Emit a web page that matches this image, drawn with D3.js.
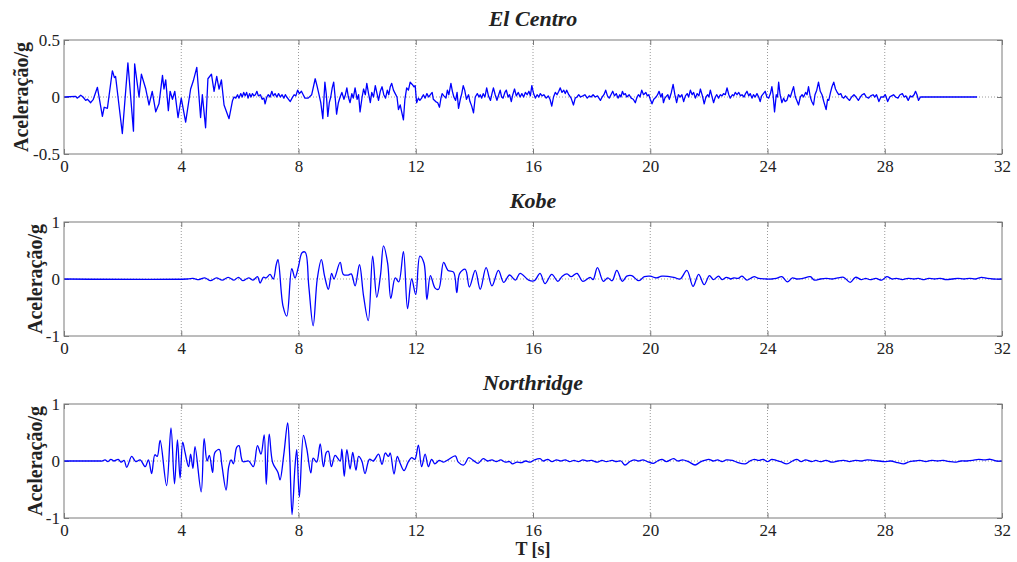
<!DOCTYPE html>
<html>
<head>
<meta charset="utf-8">
<script src="https://cdn.jsdelivr.net/npm/d3@7"></script>
<style>
  body { margin: 0; background: #fff; }
  svg { display: block; }
  text { font-family: "Liberation Serif", "Times New Roman", serif; fill: #222; }
</style>
</head>
<body>
<div class="svg-content"></div>
<script>
// time axis
const timeTicks = [0, 4, 8, 12, 16, 20, 24, 28, 32];

// record names
const titles = ["El Centro", "Kobe", "Northridge"];

// y ranges and tick labels per record
const yDomains = [[-0.5, 0.5], [-1, 1], [-1, 1]];
const elCentroTicks = [-0.5, 0, 0.5];
const kobeTicks = [-1, 0, 1];
const northridgeTicks = [-1, 0, 1];

// [t (s), acceleration (g)]
const elCentro = [
  [0,0],[0.4,0.005],[0.45,-0.01],[0.57,0.015],[0.65,0],[0.74,-0.03],[0.8,-0.02],[0.91,-0.05],[1.0,-0.02],
  [1.14,0.085],[1.31,-0.17],[1.37,-0.09],[1.48,-0.1],[1.65,0.23],[1.72,0.17],[1.76,0.18],[1.99,-0.32],
  [2.18,0.30],[2.37,-0.30],[2.41,0.29],[2.56,0],[2.64,0.2],[2.79,0.07],[2.9,-0.07],[3.01,0.05],[3.13,-0.13],
  [3.24,-0.06],[3.36,0.19],[3.41,0.07],[3.47,0.15],[3.56,-0.12],[3.62,0.05],[3.7,-0.02],[3.78,0.05],
  [3.89,-0.18],[4.0,-0.01],[4.15,-0.22],[4.32,0.07],[4.41,0.14],[4.53,0.26],[4.66,-0.18],[4.72,0.02],
  [4.83,-0.27],[4.91,0.16],[5.03,0.2],[5.12,0.05],[5.21,0.18],[5.29,0.07],[5.37,0.15],[5.46,-0.07],
  [5.63,-0.19],[5.75,-0.03],[5.8,0.0],[5.86,-0.01],[5.92,0.02],[5.97,-0.01],[6.03,0.03],[6.08,0.0],
  [6.13,0.04],[6.18,0.01],[6.23,0.04],[6.28,-0.01],[6.33,0.03],[6.38,0.0],[6.43,0.03],[6.48,0.01],
  [6.53,0.02],[6.58,0.05],[6.63,0.01],[6.7,0.02],[6.76,-0.02],[6.82,-0.01],[6.86,-0.06],[6.92,0.0],
  [6.97,0.02],[7.03,0.0],[7.09,0.05],[7.14,0.01],[7.2,0.03],[7.26,0.0],[7.32,0.03],[7.38,0.0],[7.44,0.02],
  [7.5,-0.01],[7.55,0.02],[7.6,0.0],[7.66,-0.02],[7.72,-0.04],[7.78,-0.01],[7.85,0.02],[7.91,0.01],
  [7.97,0.06],[8.03,0.03],[8.1,0.05],[8.16,0.02],[8.22,-0.01],[8.33,-0.01],[8.45,0.02],[8.57,0.16],
  [8.63,0.1],[8.7,0.02],[8.76,-0.05],[8.83,-0.19],[8.9,0.13],[8.95,0.02],[9.0,-0.17],[9.05,-0.05],
  [9.1,0.0],[9.15,0.08],[9.2,0.13],[9.25,0.0],[9.3,-0.15],[9.36,-0.05],[9.42,0],[9.48,0.04],[9.55,-0.02],
  [9.6,0.02],[9.65,0.08],[9.7,0.0],[9.76,-0.05],[9.82,0.03],[9.87,-0.01],[9.93,0.08],[10.0,-0.02],
  [10.05,0.02],[10.1,-0.13],[10.17,0.0],[10.22,0.07],[10.28,0.02],[10.33,0.12],[10.39,0.03],[10.45,-0.05],
  [10.5,0.04],[10.56,0.0],[10.62,0.1],[10.67,0.04],[10.73,-0.03],[10.79,0.05],[10.85,0.09],[10.91,0.02],
  [10.97,-0.01],[11.03,0.06],[11.08,0.02],[11.13,0.09],[11.18,0.12],[11.24,0.06],[11.3,0.03],[11.36,0.0],
  [11.41,-0.11],[11.47,-0.07],[11.52,-0.13],[11.58,-0.2],[11.63,-0.02],[11.69,0.08],[11.75,0.06],
  [11.81,0.13],[11.88,0.11],[11.94,0.09],[11.98,0.1],[12.03,-0.05],[12.09,-0.01],[12.14,-0.03],[12.2,-0.01],
  [12.26,0.02],[12.32,-0.01],[12.38,0.03],[12.44,0.0],[12.5,0.02],[12.56,0.04],[12.6,-0.02],[12.68,-0.04],
  [12.75,-0.05],[12.81,-0.09],[12.86,-0.01],[12.9,0.03],[12.96,0.01],[13.03,-0.01],[13.08,0.06],[13.13,0.02],
  [13.2,0.12],[13.25,0.05],[13.3,0],[13.36,-0.03],[13.41,0.04],[13.46,-0.1],[13.52,-0.02],[13.57,0.03],
  [13.62,0.1],[13.67,0.06],[13.73,-0.02],[13.8,0.02],[13.85,-0.04],[13.91,-0.08],[13.97,-0.14],[14.03,0.0],
  [14.1,0.03],[14.16,0.0],[14.2,0.02],[14.25,-0.01],[14.3,0.03],[14.36,0.0],[14.42,0.08],[14.48,0.01],
  [14.55,-0.03],[14.6,0.03],[14.65,0.08],[14.71,0.02],[14.77,-0.03],[14.83,0.02],[14.88,0.06],[14.93,0.0],
  [14.98,-0.01],[15.04,0.04],[15.09,0.06],[15.15,0.0],[15.2,0.02],[15.26,-0.04],[15.31,0.02],[15.37,0.07],
  [15.43,0.01],[15.5,0.04],[15.56,0.0],[15.62,0.03],[15.68,0.0],[15.74,0.04],[15.8,0.02],[15.86,0.05],
  [15.91,0.01],[15.96,0.1],[16.02,0.03],[16.08,-0.01],[16.14,0.02],[16.2,0.0],[16.25,0.03],[16.31,0.01],
  [16.37,0.02],[16.45,-0.01],[16.52,0.01],[16.58,-0.02],[16.64,-0.08],[16.7,0.0],[16.76,0.04],[16.82,0.02],
  [16.88,0.05],[16.93,0.08],[16.99,0.04],[17.05,0.06],[17.1,0.03],[17.15,0.06],[17.22,0.02],[17.3,-0.01],
  [17.38,-0.07],[17.44,-0.01],[17.5,0.0],[17.56,0.02],[17.62,0.0],[17.7,0.01],[17.77,0.02],[17.85,-0.01],
  [17.92,0.01],[17.98,0.0],[18.05,0.02],[18.12,0.0],[18.2,0.01],[18.25,-0.01],[18.3,-0.03],[18.36,0.0],
  [18.42,0.02],[18.48,0.06],[18.54,0.01],[18.6,-0.01],[18.66,0.02],[18.72,0.05],[18.78,0.01],[18.84,0.03],
  [18.9,-0.01],[18.96,0.02],[19.0,0.0],[19.05,0.05],[19.1,0.02],[19.15,0.03],[19.2,0.0],[19.28,0.02],
  [19.35,-0.01],[19.42,-0.02],[19.49,-0.05],[19.55,0.0],[19.6,0.02],[19.65,0.0],[19.71,0.06],[19.77,0.02],
  [19.85,0.04],[19.9,0.01],[19.95,0.02],[20.0,-0.02],[20.06,-0.06],[20.12,-0.02],[20.2,0.0],[20.25,0.02],
  [20.3,0.05],[20.36,0.0],[20.41,0.03],[20.45,-0.05],[20.5,-0.01],[20.56,0.01],[20.6,0.02],[20.65,-0.02],
  [20.72,0.04],[20.78,0.11],[20.84,0.02],[20.9,-0.05],[20.96,0.02],[21.02,0],[21.08,0.02],[21.14,-0.04],
  [21.2,0.01],[21.26,0.03],[21.31,0.0],[21.37,0.06],[21.43,0.02],[21.48,0.04],[21.54,-0.01],[21.6,0.03],
  [21.66,0.01],[21.71,0.07],[21.78,0.01],[21.84,-0.06],[21.9,0.0],[21.96,0.02],[22.0,0.0],[22.05,0.06],
  [22.1,0.01],[22.16,-0.05],[22.22,0.0],[22.27,0.02],[22.33,-0.01],[22.39,0.02],[22.45,0.01],[22.5,0.03],
  [22.56,0.02],[22.62,0.08],[22.68,0.02],[22.73,-0.01],[22.8,0.02],[22.85,0.01],[22.9,0.04],[22.96,0.02],
  [23.02,0.04],[23.08,0.01],[23.13,0.02],[23.2,0.0],[23.25,0.03],[23.3,0.05],[23.36,0.01],[23.41,0.03],
  [23.47,-0.01],[23.52,0.02],[23.58,0.0],[23.64,0.03],[23.7,0.0],[23.75,-0.04],[23.8,0.01],[23.86,0.03],
  [23.92,0.05],[23.98,0.0],[24.04,-0.01],[24.1,0.03],[24.15,0.09],[24.19,0.02],[24.24,-0.13],[24.3,0.02],
  [24.34,0.0],[24.38,0.13],[24.43,0.02],[24.49,-0.05],[24.55,-0.01],[24.6,-0.04],[24.66,-0.03],[24.72,0.02],
  [24.78,0.0],[24.84,0.05],[24.89,0.09],[24.95,0.0],[25.0,-0.03],[25.06,-0.07],[25.12,0.0],[25.18,0.02],
  [25.23,0.0],[25.3,0.04],[25.35,0.02],[25.4,0.09],[25.46,0.0],[25.51,-0.04],[25.57,-0.07],[25.62,0.02],
  [25.68,0.06],[25.74,0.13],[25.8,0.05],[25.86,0.02],[25.92,-0.04],[26.0,-0.11],[26.05,-0.02],[26.09,-0.03],
  [26.15,0.04],[26.2,0.09],[26.26,0.13],[26.32,0.07],[26.38,0.04],[26.43,0.02],[26.5,0.03],[26.55,0.0],
  [26.6,-0.01],[26.66,0.01],[26.72,-0.01],[26.8,-0.03],[26.87,0.0],[26.95,0.02],[27.02,0.0],[27.1,-0.03],
  [27.17,0.0],[27.23,0.02],[27.3,0.03],[27.37,0.0],[27.45,-0.01],[27.52,0.01],[27.6,0.02],[27.66,0.0],
  [27.72,0.02],[27.8,-0.04],[27.87,0.0],[27.95,0.0],[28.02,0.02],[28.1,-0.04],[28.17,0.0],[28.23,0.01],
  [28.3,0.02],[28.37,0.0],[28.45,-0.01],[28.52,0.02],[28.6,0.03],[28.66,0.0],[28.72,0.01],[28.8,-0.03],
  [28.87,0.01],[28.93,0.0],[29.0,0.02],[29.05,0.05],[29.1,0.02],[29.15,-0.03],[29.22,0.0],[31.15,0]
];

const kobe = [
  [0,0],[4.2,0],[4.4,0.01],[4.6,-0.01],[4.8,0.02],[5.0,-0.03],[5.2,0.02],[5.4,-0.02],[5.6,0.03],[5.8,-0.02],
  [5.95,0.03],[6.1,-0.03],[6.3,0.02],[6.45,-0.02],[6.6,0.04],[6.69,-0.07],[6.8,0.03],[6.9,0.02],[7.03,0.08],
  [7.14,0],[7.24,0.25],[7.3,0.34],[7.47,-0.47],[7.6,-0.65],[7.77,0.18],[7.88,0.02],[8.0,0.22],[8.12,0.46],
  [8.23,0.47],[8.35,-0.12],[8.5,-0.82],[8.64,0],[8.78,0.34],[8.89,0.05],[9.02,-0.18],[9.13,0.1],[9.21,0.0],
  [9.42,0.29],[9.53,0.08],[9.7,0.07],[9.8,0.09],[9.93,-0.12],[10.08,0.25],[10.22,-0.3],[10.38,-0.73],
  [10.53,0.4],[10.67,-0.32],[10.8,0.08],[10.9,0.58],[11.04,0.28],[11.15,-0.34],[11.3,0.02],[11.42,-0.05],
  [11.58,0.48],[11.72,-0.52],[11.86,0],[12.0,-0.27],[12.14,0.4],[12.28,0.28],[12.38,-0.36],[12.5,0.06],
  [12.66,-0.16],[12.78,-0.18],[12.95,0.29],[13.1,0.15],[13.29,0.12],[13.4,-0.24],[13.5,0.1],[13.69,0.17],
  [13.83,-0.14],[14.03,0.15],[14.2,-0.18],[14.4,0.2],[14.6,-0.12],[14.82,0.15],[15.0,-0.06],[15.2,0.07],
  [15.4,-0.02],[15.56,0.1],[15.85,-0.02],[16.05,-0.03],[16.24,0.1],[16.41,-0.08],[16.64,0.08],[16.85,-0.04],
  [17.0,0.05],[17.16,0.09],[17.3,0.04],[17.5,0.1],[17.7,-0.04],[17.95,0.03],[18.05,-0.01],[18.2,0.2],
  [18.4,-0.04],[18.55,0.02],[18.7,-0.03],[18.86,0.15],[19.05,-0.04],[19.2,0.05],[19.37,0.06],[19.6,-0.03],
  [19.8,0.04],[20.0,0.05],[20.2,0.02],[20.4,0.05],[20.8,0.03],[21.02,0],[21.25,0.15],[21.46,-0.13],
  [21.65,0.08],[21.84,-0.1],[22.02,0.06],[22.15,-0.01],[22.33,0.05],[22.45,-0.01],[22.6,0.03],[22.75,0.0],
  [22.85,0.02],[23.0,0.01],[23.13,0.05],[23.3,-0.02],[23.45,0.02],[23.55,0.04],[23.7,0.01],[23.95,0.0],
  [24.15,0.0],[24.3,0.01],[24.49,0.04],[24.68,-0.05],[24.85,0.02],[25.0,0.0],[25.2,0.01],[25.46,0.04],
  [25.6,-0.02],[25.8,0.0],[26.0,0.01],[26.2,0.0],[26.4,0.02],[26.6,0.03],[26.82,-0.06],[27.0,0.03],
  [27.2,-0.01],[27.35,0.01],[27.5,-0.01],[27.7,0.01],[27.9,-0.02],[28.07,0.04],[28.25,0.0],[28.4,0.01],
  [28.6,-0.01],[28.8,0.01],[29.0,0.0],[29.15,0.01],[29.3,-0.01],[29.5,0.01],[29.7,0.0],[29.9,0.01],
  [30.1,-0.01],[30.3,0.0],[30.5,0.01],[30.7,0.0],[30.9,0.01],[31.1,0.0],[31.3,0.03],[31.5,0.01],[31.7,0.0],
  [32,0]
];

const northridge = [
  [0,0],[1.25,0],[1.3,0.0],[1.4,0.02],[1.5,-0.01],[1.6,0.03],[1.7,0],[1.85,0.03],[1.95,-0.02],[2.05,0.01],
  [2.14,-0.11],[2.31,0.08],[2.45,-0.01],[2.6,0.02],[2.77,-0.1],[2.88,0.02],[2.99,-0.22],[3.1,0.11],
  [3.18,0.08],[3.28,0.36],[3.5,-0.43],[3.65,0.58],[3.77,-0.4],[3.87,0.37],[3.96,-0.3],[4.05,0.33],
  [4.13,0.15],[4.25,-0.1],[4.32,0.12],[4.4,-0.13],[4.47,0.25],[4.68,-0.54],[4.78,0.39],[4.88,0.0],
  [4.96,0.1],[5.07,-0.2],[5.15,0.15],[5.3,0.2],[5.38,-0.05],[5.53,-0.51],[5.62,-0.1],[5.7,0.02],
  [5.78,-0.05],[5.89,0.24],[5.97,0.27],[6.1,-0.01],[6.3,0.0],[6.46,-0.1],[6.6,0.27],[6.72,0.12],
  [6.83,0.46],[6.9,-0.41],[7.0,0.47],[7.12,-0.03],[7.3,-0.2],[7.37,-0.33],[7.5,0.12],[7.63,0.67],
  [7.7,0.1],[7.78,-0.94],[7.88,-0.1],[7.94,0.2],[8.03,-0.63],[8.17,0.45],[8.28,0.22],[8.42,-0.21],
  [8.5,0.05],[8.62,-0.02],[8.74,0.3],[8.85,-0.1],[8.95,0.15],[9.02,0.17],[9.12,-0.1],[9.25,0.1],[9.42,0],
  [9.48,0.21],[9.56,-0.27],[9.65,0.2],[9.76,-0.14],[9.85,0.15],[9.96,-0.16],[10.05,0.08],[10.16,0.0],
  [10.27,-0.22],[10.42,0.03],[10.55,0.0],[10.73,0.12],[10.85,-0.06],[10.96,0.14],[11.07,0.08],
  [11.13,0.14],[11.26,-0.23],[11.37,0.08],[11.46,-0.03],[11.6,-0.17],[11.75,-0.01],[11.86,0.06],
  [11.97,0.03],[12.09,0.28],[12.2,-0.1],[12.32,0.12],[12.43,-0.1],[12.54,0.03],[12.65,-0.05],[12.8,0.01],
  [12.95,-0.02],[13.1,0.02],[13.35,0.09],[13.45,-0.02],[13.64,-0.07],[13.81,0.06],[13.96,0.01],
  [14.13,-0.04],[14.3,0.04],[14.45,0.0],[14.6,0.02],[14.75,-0.01],[14.9,0.02],[15.05,-0.02],[15.2,-0.01],
  [15.3,-0.05],[15.45,-0.02],[15.6,-0.03],[15.75,0.0],[15.9,-0.02],[16.05,0.02],[16.24,0.04],[16.35,0.0],
  [16.5,0.03],[16.65,-0.01],[16.8,0.02],[16.95,0.0],[17.1,0.02],[17.25,-0.01],[17.4,0.01],[17.55,-0.01],
  [17.7,0.02],[17.85,0.0],[18.0,0.01],[18.2,-0.02],[18.35,0.01],[18.5,-0.01],[18.7,0.01],[18.85,-0.01],
  [19.0,0.0],[19.14,-0.07],[19.3,-0.01],[19.45,0.02],[19.6,0.0],[19.75,0.02],[19.9,-0.01],[20.11,-0.04],
  [20.25,0.0],[20.4,0.03],[20.55,-0.01],[20.79,0.04],[20.95,0.0],[21.1,0.02],[21.3,-0.01],[21.53,-0.07],
  [21.7,-0.02],[21.85,0.01],[22.0,0.03],[22.15,0.0],[22.3,0.02],[22.45,-0.01],[22.6,0.02],[22.8,0.01],
  [22.95,-0.02],[23.24,-0.05],[23.4,0.0],[23.55,0.03],[23.7,0.01],[23.85,0.03],[24.0,-0.01],[24.15,0.03],
  [24.3,0.01],[24.45,-0.01],[24.66,-0.05],[24.85,0.0],[25.0,0.03],[25.15,-0.01],[25.3,0.02],[25.5,-0.01],
  [25.65,0.01],[25.8,-0.01],[26.0,0.01],[26.2,-0.02],[26.4,0.0],[26.6,0.01],[26.8,-0.01],[27.0,0.01],
  [27.2,0.0],[27.4,0.02],[27.6,0.01],[27.8,0.0],[28.0,-0.01],[28.2,0.0],[28.45,-0.03],[28.64,-0.05],
  [28.85,-0.01],[29.0,0.0],[29.2,0.01],[29.4,-0.01],[29.6,0.01],[29.8,0.0],[30.0,0.01],[30.2,-0.01],
  [30.4,-0.02],[30.6,0.0],[30.8,0.0],[31.0,0.01],[31.2,0.03],[31.4,0.02],[31.6,0.03],[31.8,0.0],[32,0]
];

const records = [elCentro, kobe, northridge];
const yTickSets = [elCentroTicks, kobeTicks, northridgeTicks];

const svgWidth = 1017;
const svgHeight = 562;
const left = 64, right = 1002;
const panelTops = [40, 222, 404];
const panelHeight = 114;
const labelX = [28, 42, 42];
// El Centro is drawn straight, the other two records look smoother
const curves = [d3.curveLinear, d3.curveCatmullRom.alpha(0.5), d3.curveCatmullRom.alpha(0.5)];

let svg = d3.select(".svg-content")
            .append("svg")
            .attr("width", svgWidth)
            .attr("height", svgHeight);

const xScale = d3.scaleLinear()
                 .domain([0, 32])
                 .range([left, right]);

records.forEach((rec, i) => {
  const top = panelTops[i];
  const bottom = top + panelHeight;

  const yScale = d3.scaleLinear()
                   .domain(yDomains[i])
                   .range([bottom, top]);

  let g = svg.append("g");

  // dotted grid
  g.selectAll(".vgrid")
   .data(timeTicks.slice(1, -1))
   .enter()
   .append("line")
   .attr("x1", d => xScale(d)).attr("x2", d => xScale(d))
   .attr("y1", top).attr("y2", bottom)
   .attr("stroke", "#9a9a9a")
   .attr("stroke-dasharray", "1,2");

  g.append("line")
   .attr("x1", left).attr("x2", right)
   .attr("y1", yScale(0)).attr("y2", yScale(0))
   .attr("stroke", "#9a9a9a")
   .attr("stroke-dasharray", "1,2");

  // axes, ticks pointing inward
  const xAxis = d3.axisBottom(xScale).tickValues(timeTicks).tickSize(-5).tickPadding(6).tickFormat(d => String(d));
  const xTop = d3.axisTop(xScale).tickValues(timeTicks).tickSize(-5).tickFormat("");
  const yAxis = d3.axisLeft(yScale).tickValues(yTickSets[i]).tickSize(-5).tickPadding(4).tickFormat(d => String(d));
  const yRight = d3.axisRight(yScale).tickValues(yTickSets[i]).tickSize(-5).tickFormat("");

  [
    g.append("g").attr("transform", "translate(0," + bottom + ")").call(xAxis),
    g.append("g").attr("transform", "translate(0," + top + ")").call(xTop),
    g.append("g").attr("transform", "translate(" + left + ",0)").call(yAxis),
    g.append("g").attr("transform", "translate(" + right + ",0)").call(yRight)
  ].forEach(ax => {
    ax.attr("font-family", "Liberation Serif").attr("font-size", 17);
    ax.select(".domain").remove();
    ax.selectAll(".tick line").attr("stroke", "#7a7a7a");
    ax.selectAll(".tick text").attr("fill", "#222");
  });

  // signal
  const line = d3.line()
                 .curve(curves[i])
                 .x(d => xScale(d[0]))
                 .y(d => yScale(d[1]));

  g.append("path")
   .datum(rec)
   .attr("d", line)
   .attr("fill", "none")
   .attr("stroke", "#0000ff")
   .attr("stroke-width", 1.3)
   .attr("stroke-linejoin", "round");

  // frame
  g.append("rect")
   .attr("x", left).attr("y", top)
   .attr("width", right - left).attr("height", panelHeight)
   .attr("fill", "none")
   .attr("stroke", "#7a7a7a")
   .attr("stroke-width", 1);

  // title
  g.append("text")
   .attr("x", (left + right) / 2)
   .attr("y", top - 14)
   .attr("text-anchor", "middle")
   .style("font-size", "22px")
   .style("font-weight", "bold")
   .style("font-style", "italic")
   .attr("fill", "#111")
   .text(titles[i]);

  // y label
  g.append("text")
   .attr("transform", "translate(" + labelX[i] + "," + (top + panelHeight / 2) + ") rotate(-90)")
   .attr("text-anchor", "middle")
   .style("font-size", "20px")
   .style("font-weight", "bold")
   .attr("fill", "#111")
   .text("Aceleração/g");
});

svg.append("text")
   .attr("x", (left + right) / 2)
   .attr("y", 555)
   .attr("text-anchor", "middle")
   .style("font-size", "18px")
   .style("font-weight", "bold")
   .attr("fill", "#111")
   .text("T [s]");
</script>
</body>
</html>
